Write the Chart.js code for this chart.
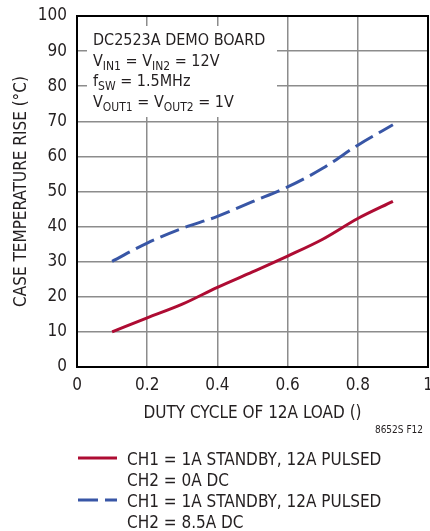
<!DOCTYPE html>
<html>
<head>
<meta charset="utf-8">
<script src="https://cdn.jsdelivr.net/npm/chart.js@4"></script>
<style>
  html, body { margin: 0; padding: 0; background: #fff; }
  #wrap { width: 430px; height: 531px; }
</style>
</head>
<body>
<div id="wrap"><canvas id="chart-1" width="430" height="531"></canvas></div>
<script>
// duty cycle values (x) and temperature rise for each curve
var dutyCycle = [0.1, 0.2, 0.3, 0.4, 0.5, 0.6, 0.7, 0.8, 0.9];
var riseCh2Off = [10, 14, 17.9, 22.7, 27.1, 31.6, 36.4, 42.3, 47.2];
var riseCh2On = [30.1, 35.3, 39.5, 42.9, 47.1, 51.3, 56.6, 63.2, 69];

var seriesLabels = [
  ["CH1 = 1A STANDBY, 12A PULSED", "CH2 = 0A DC"],
  ["CH1 = 1A STANDBY, 12A PULSED", "CH2 = 8.5A DC"]
];
var xTicks = [0, 0.2, 0.4, 0.6, 0.8, 1];
var yTicks = [0, 10, 20, 30, 40, 50, 60, 70, 80, 90, 100];

var xTitle = "DUTY CYCLE OF 12A LOAD ()";
var yTitle = "CASE TEMPERATURE RISE (°C)";
var figNote = "8652S F12";

// box text, each line is a list of [text, isSubscript]
var boxLines = [
  [["DC2523A DEMO BOARD", false]],
  [["V", false], ["IN1", true], [" = V", false], ["IN2", true], [" = 12V", false]],
  [["f", false], ["SW", true], [" = 1.5MHz", false]],
  [["V", false], ["OUT1", true], [" = V", false], ["OUT2", true], [" = 1V", false]]
];

var FONT = "'Liberation Sans Narrow', 'DejaVu Sans Condensed', sans-serif";
var TEXT = "#231f20";

function toPoints(xs, ys) {
  return xs.map(function (x, i) { return { x: x, y: ys[i] }; });
}

var annotations = {
  id: "annotations",
  beforeDatasetsDraw: function (chart) {
    var ctx = chart.ctx;
    ctx.save();
    // white box behind the board info
    ctx.fillStyle = "#fff";
    ctx.fillRect(87, 26, 190, 91);
    ctx.fillStyle = TEXT;
    ctx.textBaseline = "alphabetic";
    boxLines.forEach(function (line, i) {
      var x = 93;
      var y = 45 + i * 20.7;
      line.forEach(function (run) {
        if (run[1]) {
          ctx.font = "12px " + FONT;
          ctx.fillText(run[0], x, y + 4);
        } else {
          ctx.font = "16px " + FONT;
          ctx.fillText(run[0], x, y);
        }
        x += ctx.measureText(run[0]).width;
      });
    });
    ctx.restore();
  },
  afterDraw: function (chart) {
    var ctx = chart.ctx;
    var area = chart.chartArea;
    ctx.save();
    // frame on top and right
    ctx.strokeStyle = "#000";
    ctx.lineWidth = 2;
    ctx.strokeRect(area.left, area.top, area.right - area.left, area.bottom - area.top);

    // figure note
    ctx.fillStyle = TEXT;
    ctx.font = "10px " + FONT;
    ctx.textAlign = "right";
    ctx.textBaseline = "alphabetic";
    ctx.fillText(figNote, 423, 433);

    // legend
    ctx.textAlign = "left";
    ctx.font = "17px " + FONT;
    chart.data.datasets.forEach(function (ds, i) {
      var y0 = 465 + i * 42;
      ctx.strokeStyle = ds.borderColor;
      ctx.lineWidth = ds.borderWidth;
      ctx.setLineDash(ds.borderDash || []);
      ctx.beginPath();
      ctx.moveTo(78, y0 - 7);
      ctx.lineTo(117, y0 - 7);
      ctx.stroke();
      ctx.setLineDash([]);
      ds.label.forEach(function (t, j) {
        ctx.fillText(t, 127, y0 + j * 21);
      });
    });
    ctx.restore();
  }
};

const ctx1 = document.getElementById("chart-1").getContext("2d");
const myChart = new Chart(ctx1, {
  type: "line",
  data: {
    datasets: [
      {
        label: seriesLabels[0],
        data: toPoints(dutyCycle, riseCh2Off),
        borderColor: "#ae0c33",
        borderWidth: 3,
        pointRadius: 0,
        cubicInterpolationMode: "monotone",
        fill: false
      },
      {
        label: seriesLabels[1],
        data: toPoints(dutyCycle, riseCh2On),
        borderColor: "#3856a6",
        borderWidth: 3,
        borderDash: [20, 7],
        pointRadius: 0,
        cubicInterpolationMode: "monotone",
        fill: false
      }
    ]
  },
  options: {
    responsive: false,
    animation: false,
    layout: { padding: { left: 0, top: 16, right: 2, bottom: 107 } },
    plugins: {
      legend: { display: false },
      tooltip: { enabled: false }
    },
    scales: {
      x: {
        type: "linear",
        min: 0,
        max: 1,
        afterBuildTicks: function (scale) {
          scale.ticks = xTicks.map(function (v) { return { value: v }; });
        },
        afterFit: function (scale) {
          scale.height = 57;
          scale.paddingLeft = 0;
          scale.paddingRight = 0;
        },
        grid: { color: "#8c8c8c", lineWidth: 1.5, drawTicks: false },
        border: { display: true, color: "#000", width: 2 },
        ticks: {
          padding: 8,
          color: TEXT,
          font: { family: FONT, size: 17 },
          callback: function (v) { return String(v); }
        },
        title: {
          display: true,
          text: xTitle,
          color: TEXT,
          padding: 0,
          font: { family: FONT, size: 17 }
        }
      },
      y: {
        min: 0,
        max: 100,
        afterBuildTicks: function (scale) {
          scale.ticks = yTicks.map(function (v) { return { value: v }; });
        },
        afterFit: function (scale) {
          scale.width = 77;
          scale.paddingTop = 0;
          scale.paddingBottom = 0;
        },
        grid: { color: "#8c8c8c", lineWidth: 1.5, drawTicks: false },
        border: { display: true, color: "#000", width: 2 },
        ticks: {
          padding: 10,
          color: TEXT,
          font: { family: FONT, size: 17 }
        },
        title: {
          display: true,
          text: yTitle,
          color: TEXT,
          padding: { top: 11, bottom: 0 },
          font: { family: FONT, size: 17 }
        }
      }
    }
  },
  plugins: [annotations]
});
</script>
</body>
</html>
